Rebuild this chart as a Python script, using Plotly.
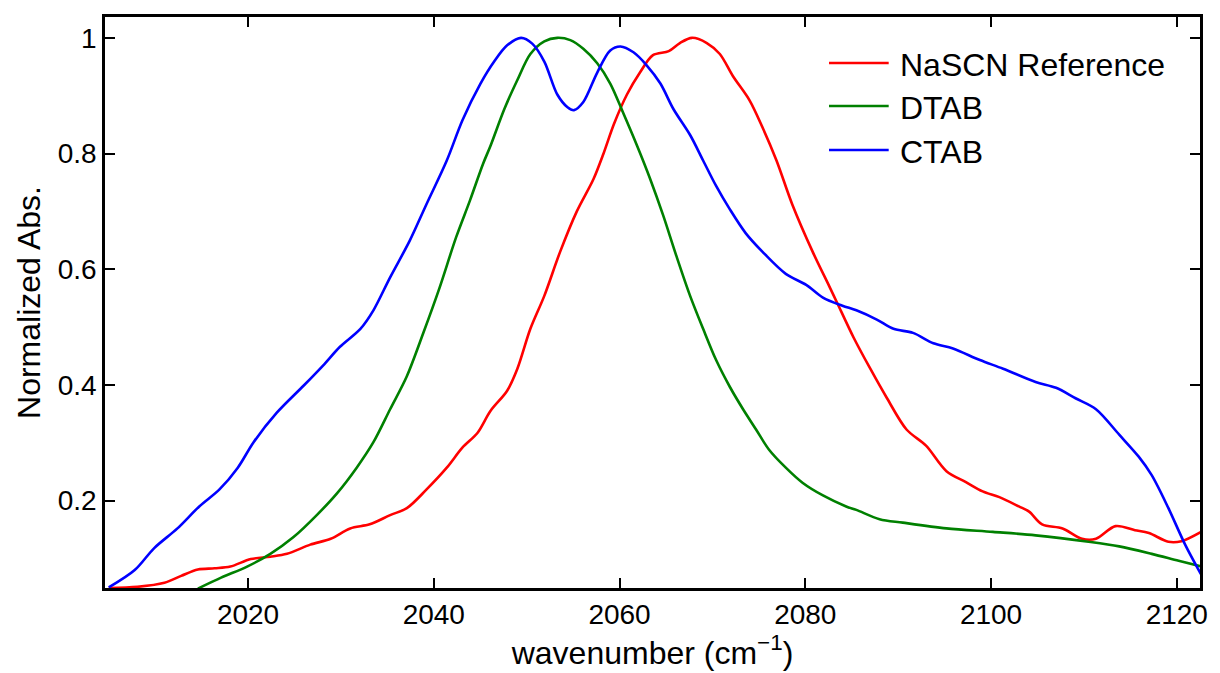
import plotly.graph_objects as go

# NaSCN Reference (red)
nascn_x = [2005.0, 2008.1, 2011.0, 2012.8, 2014.6, 2016.4, 2018.1, 2020.3, 2022.4, 2024.2,
           2026.7, 2028.9, 2031.0, 2033.1, 2035.3, 2037.1, 2039.2, 2041.4, 2043.1, 2044.7,
           2046.1, 2047.9, 2049.0, 2050.4, 2051.9, 2053.6, 2055.4, 2057.2, 2058.3, 2059.4,
           2060.8, 2062.2, 2063.6, 2065.3, 2066.5, 2067.8, 2069.4, 2070.8, 2072.2, 2074.0,
           2075.4, 2076.9, 2078.6, 2080.8, 2082.6, 2083.4, 2085.2, 2087.0, 2088.8, 2090.9,
           2093.0, 2095.2, 2097.3, 2099.1, 2100.9, 2103.0, 2104.1, 2105.5, 2107.7, 2109.8,
           2111.3, 2113.4, 2115.5, 2117.0, 2119.1, 2120.5, 2122.6]
nascn_y = [0.049, 0.051, 0.058, 0.070, 0.081, 0.083, 0.086, 0.099, 0.103, 0.108,
           0.124, 0.134, 0.152, 0.159, 0.175, 0.187, 0.219, 0.257, 0.292, 0.317,
           0.355, 0.390, 0.428, 0.497, 0.554, 0.630, 0.700, 0.756, 0.801, 0.851,
           0.902, 0.940, 0.970, 0.977, 0.991, 1.000, 0.991, 0.972, 0.934, 0.892,
           0.845, 0.788, 0.712, 0.630, 0.570, 0.543, 0.482, 0.428, 0.377, 0.323,
           0.295, 0.251, 0.232, 0.216, 0.206, 0.190, 0.181, 0.159, 0.152, 0.134,
           0.134, 0.156, 0.149, 0.144, 0.129, 0.130, 0.146]

# DTAB (green)
dtab_x = [2014.6, 2017.1, 2019.9, 2022.4, 2024.9, 2027.4, 2029.6, 2031.7, 2033.5, 2035.3,
          2037.1, 2038.9, 2040.6, 2042.4, 2043.9, 2045.3, 2046.1, 2047.6, 2049.0, 2050.4,
          2051.9, 2053.3, 2054.7, 2056.1, 2057.6, 2059.0, 2060.4, 2061.9, 2063.3, 2064.7,
          2066.1, 2067.6, 2069.0, 2070.4, 2071.9, 2073.3, 2074.7, 2076.1, 2077.9, 2079.7,
          2081.9, 2084.4, 2085.5, 2088.0, 2090.5, 2095.2, 2100.2, 2104.8, 2110.5, 2113.8,
          2117.3, 2120.2, 2122.7]
dtab_y = [0.048, 0.067, 0.086, 0.108, 0.137, 0.175, 0.213, 0.257, 0.301, 0.358,
          0.415, 0.491, 0.567, 0.655, 0.719, 0.782, 0.813, 0.877, 0.927, 0.972,
          0.994, 1.000, 0.996, 0.981, 0.956, 0.921, 0.870, 0.813, 0.756, 0.693,
          0.624, 0.554, 0.497, 0.443, 0.396, 0.358, 0.323, 0.288, 0.257, 0.231,
          0.209, 0.190, 0.184, 0.168, 0.162, 0.152, 0.146, 0.140, 0.129, 0.121,
          0.108, 0.096, 0.086]

# CTAB (blue)
ctab_x = [2005.0, 2007.8, 2009.9, 2012.4, 2014.75, 2016.9, 2018.9, 2020.6, 2023.1, 2026.0,
          2028.1, 2029.9, 2032.1, 2033.5, 2035.3, 2037.4, 2039.2, 2041.4, 2043.1, 2045.0,
          2046.5, 2047.9, 2049.4, 2050.6, 2051.9, 2053.3, 2054.4, 2055.1, 2056.1, 2057.6,
          2059.0, 2060.1, 2061.5, 2062.9, 2064.4, 2065.8, 2067.6, 2069.0, 2070.4, 2071.9,
          2073.6, 2075.4, 2077.9, 2080.1, 2081.9, 2084.0, 2085.5, 2087.7, 2089.5, 2091.6,
          2093.8, 2095.9, 2098.8, 2101.3, 2104.8, 2107.0, 2109.1, 2111.3, 2113.8, 2115.9,
          2117.3, 2119.1, 2120.9, 2122.6]
ctab_y = [0.050, 0.080, 0.118, 0.152, 0.190, 0.219, 0.257, 0.301, 0.352, 0.399,
          0.434, 0.466, 0.497, 0.529, 0.586, 0.649, 0.712, 0.788, 0.858, 0.920,
          0.959, 0.987, 1.000, 0.990, 0.959, 0.902, 0.880, 0.875, 0.889, 0.940,
          0.978, 0.985, 0.975, 0.953, 0.921, 0.877, 0.832, 0.788, 0.744, 0.703,
          0.662, 0.630, 0.592, 0.573, 0.551, 0.537, 0.529, 0.513, 0.497, 0.490,
          0.472, 0.463, 0.443, 0.428, 0.405, 0.395, 0.377, 0.358, 0.314, 0.276,
          0.244, 0.187, 0.124, 0.073]

series_names = ["NaSCN Reference", "DTAB", "CTAB"]
series_colors = ["#ff0000", "#008000", "#0000ff"]

x_ticks = [2020, 2040, 2060, 2080, 2100, 2120]
y_ticks = [0.2, 0.4, 0.6, 0.8, 1.0]
y_tick_labels = ["0.2", "0.4", "0.6", "0.8", "1"]

FONT = "Liberation Sans, Arial, Helvetica, sans-serif"

fig = go.Figure()
for name, xs, ys, col in zip(series_names, [nascn_x, dtab_x, ctab_x],
                             [nascn_y, dtab_y, ctab_y], series_colors):
    fig.add_trace(go.Scatter(x=xs, y=ys, mode="lines", name=name, showlegend=False,
                             line=dict(color=col, width=2.6, shape="spline", smoothing=0.9)))

axis_common = dict(showline=True, linecolor="black", linewidth=2.5, mirror="ticks",
                   ticks="inside", ticklen=10, tickwidth=2, tickcolor="black",
                   showgrid=False, zeroline=False,
                   tickfont=dict(family=FONT, size=28, color="black"))

fig.update_xaxes(range=[2004.6, 2122.5], tickvals=x_ticks,
                 title=dict(text="wavenumber (cm<sup>−1</sup>)",
                            font=dict(family=FONT, size=32, color="black"), standoff=2),
                 **axis_common)
fig.update_yaxes(range=[0.049, 1.036], tickvals=y_ticks, ticktext=y_tick_labels,
                 title=dict(text="Normalized Abs.",
                            font=dict(family=FONT, size=32, color="black"), standoff=8),
                 **axis_common)

# legend drawn in paper coordinates (line samples + labels)
leg_rows = [0.9194, 0.8441, 0.7671]
for name, col, yy in zip(series_names, series_colors, leg_rows):
    fig.add_shape(type="line", xref="paper", yref="paper", x0=0.6612, x1=0.7157,
                  y0=yy, y1=yy, line=dict(color=col, width=2.6))
    fig.add_annotation(xref="paper", yref="paper", x=0.7239, y=yy, text=name,
                       showarrow=False, xanchor="left", yanchor="middle", yshift=-2,
                       font=dict(family=FONT, size=32, color="black"))

fig.update_layout(
    width=1220, height=673,
    margin=dict(l=105, r=14, t=17, b=85),
    plot_bgcolor="white", paper_bgcolor="white",
    font=dict(family=FONT, size=28, color="black"),
    showlegend=False,
)

fig.write_html("out.html")
